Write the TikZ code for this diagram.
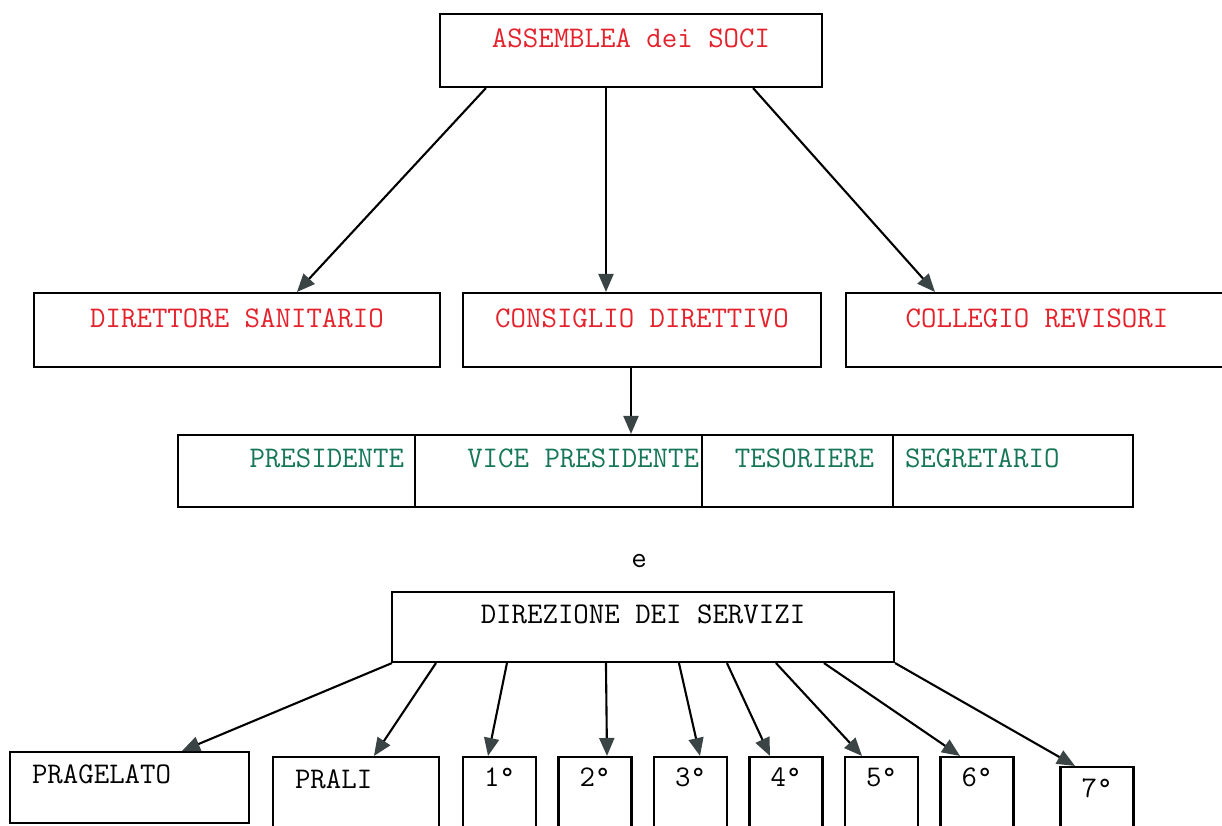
\documentclass[tikz,border=0pt]{standalone}
\usepackage{fontspec}
\usetikzlibrary{arrows.meta}
\definecolor{socired}{RGB}{228,34,44}
\definecolor{cargreen}{RGB}{22,118,88}
\definecolor{tipgray}{RGB}{58,68,68}

\begin{document}
\begin{tikzpicture}[x=1pt,y=-1pt,
  box/.style={draw, line width=2.1pt, inner xsep=0pt, inner ysep=0pt,
    font=\ttfamily\fontsize{30}{34}\selectfont},
  redbox/.style={box, text=socired, text height=34pt, text depth=40pt},
  cell/.style={box, text=cargreen, text height=32pt, text depth=40pt},
  sede/.style={box, minimum width=73pt, text height=29pt, text depth=71pt},
  arr/.style={-{Triangle[length=18pt,width=15pt,color=tipgray]}, line width=2.1pt}]
  \useasboundingbox (0,0) rectangle (1222,825);
  \clip (0,0) rectangle (1222,825);

  % organi
  \node[redbox, minimum width=382pt, text height=33pt, text depth=40pt] (soci) at (631,50.5) {ASSEMBLEA dei SOCI};
  \node[redbox, minimum width=406pt] (dirsan) at (237,330) {DIRETTORE SANITARIO};
  \node[redbox, minimum width=358pt] (consiglio) at (642,330) {CONSIGLIO DIRETTIVO};
  \node[redbox, minimum width=382pt] (collegio) at (1037,330) {COLLEGIO REVISORI};

  \draw[arr] ([xshift=47pt]soci.south west) -- ([xshift=264pt]dirsan.north west);
  \draw[arr] ([xshift=-25pt]soci.south) -- ([xshift=-36pt]consiglio.north);
  \draw[arr] ([xshift=-70pt]soci.south east) -- ([xshift=90pt]collegio.north west);

  % cariche
  \node[cell, text width=215pt, align=right, inner xsep=11pt] (pres) at (296.5,471) {PRESIDENTE};
  \node[cell, text width=281pt, align=right, inner xsep=3pt] (vice) at (558.5,471) {{\spaceskip=0pt VICE PRESIDENTE}};
  \node[cell, text width=153pt, align=right, inner xsep=19pt] (tes) at (797.5,471) {TESORIERE};
  \node[cell, text width=216pt, align=left, inner xsep=12pt] (seg) at (1013,471) {SEGRETARIO};

  \draw[arr] ([xshift=-11pt]consiglio.south) -- ([xshift=-11pt]consiglio.south |- vice.north);

  \node[font=\ttfamily\fontsize{30}{34}\selectfont, anchor=base, inner sep=0pt] (e) at (639,567) {e};

  % servizi
  \node[box, minimum width=502pt, text height=31pt, text depth=39pt] (servizi) at (643,627) {DIREZIONE DEI SERVIZI};

  \node[box, text width=195pt, align=left, inner xsep=22pt, text height=31pt, text depth=40pt] (pragelato) at (129.5,787.5) {PRAGELATO};
  \node[box, text width=122pt, align=left, inner xsep=22pt, text height=31pt, text depth=69pt] (prali) at (356,807) {PRALI};
  \node[sede] (s1) at (499.5,807) {1°};
  \node[sede] (s2) at (595,807) {2°};
  \node[sede] (s3) at (690.5,807) {3°};
  \node[sede] (s4) at (786,807) {4°};
  \node[sede] (s5) at (881.5,807) {5°};
  \node[sede] (s6) at (977,807) {6°};
  \node[sede, text height=30pt, text depth=70pt] (s7) at (1097,817) {7°};

  \draw[arr] ([xshift=1pt]servizi.south west) -- ([xshift=173pt]pragelato.north west);
  \draw[arr] ([xshift=45pt]servizi.south west) -- ([xshift=102pt]prali.north west);
  \draw[arr] ([xshift=116pt]servizi.south west) -- ([xshift=-11.5pt]s1.north);
  \draw[arr] ([xshift=215pt]servizi.south west) -- ([xshift=12pt]s2.north);
  \draw[arr] ([xshift=288pt]servizi.south west) -- ([xshift=9.5pt]s3.north);
  \draw[arr] ([xshift=336pt]servizi.south west) -- ([xshift=-16pt]s4.north);
  \draw[arr] ([xshift=385pt]servizi.south west) -- ([xshift=-19.5pt]s5.north);
  \draw[arr] ([xshift=433pt]servizi.south west) -- ([xshift=-17pt]s6.north);
  \draw[arr] (servizi.south east) -- ([xshift=-22pt]s7.north);
\end{tikzpicture}
\end{document}
